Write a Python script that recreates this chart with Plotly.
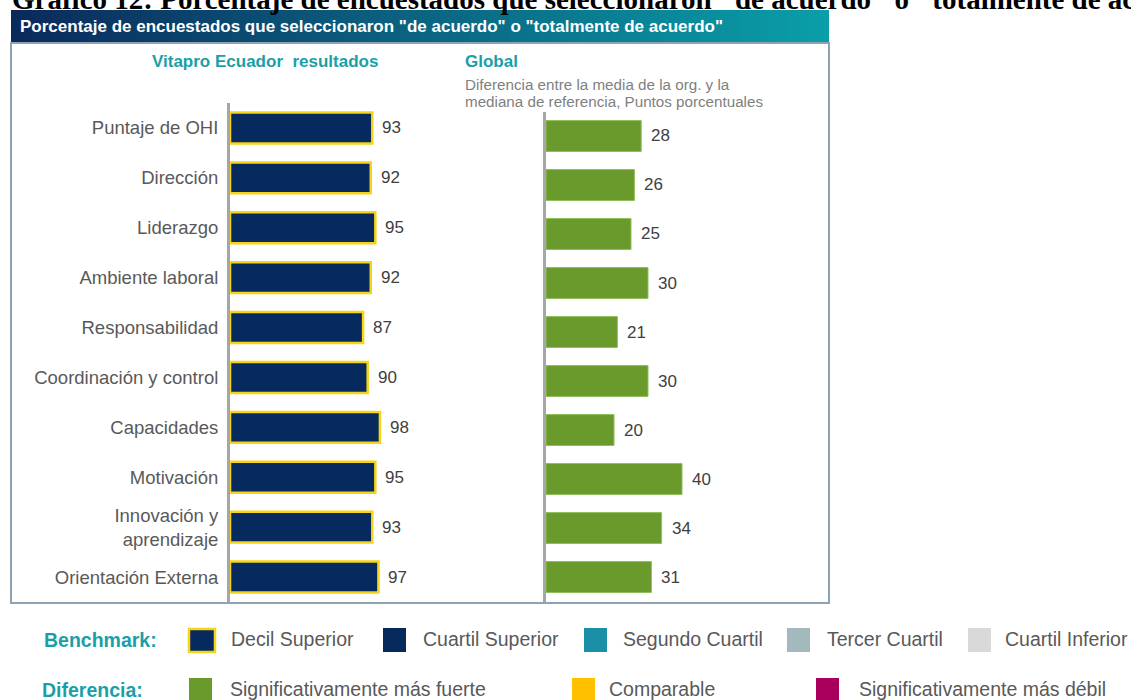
import plotly.graph_objects as go

W, H = 1131, 700

categories = ["Puntaje de OHI", "Dirección", "Liderazgo", "Ambiente laboral",
              "Responsabilidad", "Coordinación y control", "Capacidades",
              "Motivación", "Innovación y<br>aprendizaje", "Orientación Externa"]
results = [93, 92, 95, 92, 87, 90, 98, 95, 93, 97]
global_diff = [28, 26, 25, 30, 21, 30, 20, 40, 34, 31]

bench_labels = ["Decil Superior", "Cuartil Superior", "Segundo Cuartil", "Tercer Cuartil", "Cuartil Inferior"]
bench_colors = ["#062a5e", "#062a5e", "#1a8fa6", "#a3b9bd", "#d9d9d9"]
diff_labels = ["Significativamente más fuerte", "Comparable", "Significativamente más débil"]
diff_colors = ["#6a9a2c", "#ffc000", "#a8005a"]

NAVY = "#062a5e"
YELLOW = "#f7d417"
GREEN = "#6a9a2c"
TEAL = "#1a9fa8"
GRAY = "#595959"
SANS = "Arial, Liberation Sans, sans-serif"


def px(x):
    return x / W


def py(y):
    return 1 - y / H


fig = go.Figure()

fig.add_trace(go.Bar(
    y=categories, x=results, orientation="h", xaxis="x", yaxis="y",
    marker=dict(color=NAVY, line=dict(color=YELLOW, width=2.5)),
    width=0.62, showlegend=False, hoverinfo="x+y"))

fig.add_trace(go.Bar(
    y=categories, x=global_diff, orientation="h", xaxis="x2", yaxis="y2",
    marker=dict(color=GREEN, line=dict(color="#8fbf5a", width=1)),
    width=0.63, showlegend=False, hoverinfo="x+y"))

annotations = []
for c, v in zip(categories, results):
    annotations.append(dict(x=v, y=c, xref="x", yref="y", text=str(v), showarrow=False,
                            xanchor="left", xshift=8, font=dict(family=SANS, size=17, color="#404040")))
for c, v in zip(categories, global_diff):
    annotations.append(dict(x=v, y=c, xref="x2", yref="y2", text=str(v), showarrow=False,
                            xanchor="left", xshift=8, font=dict(family=SANS, size=17, color="#404040")))

shapes = []
# header gradient bar
c0 = (11, 42, 92)
c1 = (10, 158, 168)
N = 82
x0, x1 = 11, 829
for i in range(N):
    t = i / (N - 1)
    col = "rgb(%d,%d,%d)" % tuple(round(a + (b - a) * t) for a, b in zip(c0, c1))
    xa = x0 + (x1 - x0) * i / N
    xb = x0 + (x1 - x0) * (i + 1) / N + 0.8
    shapes.append(dict(type="rect", xref="paper", yref="paper", x0=px(xa), x1=px(min(xb, x1)),
                       y0=py(43), y1=py(10), fillcolor=col, line=dict(width=0), layer="below"))
# panel border
shapes.append(dict(type="rect", xref="paper", yref="paper", x0=px(11), x1=px(829), y0=py(603), y1=py(43),
                   line=dict(color="#8ea4b4", width=2), fillcolor="rgba(0,0,0,0)", layer="below"))

# top (cropped) title, as in the reference
annotations.append(dict(x=px(10), y=py(-1), xref="paper", yref="paper", xanchor="left", yanchor="middle",
                        text="<b>Gráfico 12: Porcentaje de encuestados que seleccionaron \"de acuerdo\" o \"totalmente de acuerdo\"</b>",
                        showarrow=False, font=dict(family="Liberation Serif, Times New Roman, serif", size=29, color="#000000")))
# header text
annotations.append(dict(x=px(18), y=py(26.5), xref="paper", yref="paper", xanchor="left", yanchor="middle",
                        text="<b>Porcentaje de encuestados que seleccionaron \"de acuerdo\" o \"totalmente de acuerdo\"</b>",
                        showarrow=False, font=dict(family=SANS, size=17, color="#ffffff")))
# subtitles
annotations.append(dict(x=px(265), y=py(62), xref="paper", yref="paper", xanchor="center", yanchor="middle",
                        text="<b>Vitapro Ecuador  resultados</b>", showarrow=False,
                        font=dict(family=SANS, size=17, color=TEAL)))
annotations.append(dict(x=px(463), y=py(62), xref="paper", yref="paper", xanchor="left", yanchor="middle",
                        text="<b>Global</b>", showarrow=False, font=dict(family=SANS, size=17, color=TEAL)))
annotations.append(dict(x=px(463), y=py(84), xref="paper", yref="paper", xanchor="left", yanchor="middle",
                        text="Diferencia entre la media de la org. y la", showarrow=False,
                        font=dict(family=SANS, size=15.2, color="#7f7f7f")))
annotations.append(dict(x=px(463), y=py(101), xref="paper", yref="paper", xanchor="left", yanchor="middle",
                        text="mediana de referencia, Puntos porcentuales", showarrow=False,
                        font=dict(family=SANS, size=15.2, color="#7f7f7f")))

# legend rows
annotations.append(dict(x=px(42), y=py(640), xref="paper", yref="paper", xanchor="left", yanchor="middle",
                        text="<b>Benchmark:</b>", showarrow=False, font=dict(family=SANS, size=19.5, color=TEAL)))
annotations.append(dict(x=px(40), y=py(690), xref="paper", yref="paper", xanchor="left", yanchor="middle",
                        text="<b>Diferencia:</b>", showarrow=False, font=dict(family=SANS, size=19.5, color=TEAL)))

bench_sq_x = [188, 383, 584, 787, 968]
bench_txt_x = [229, 421, 621, 825, 1003]
for i, (lab, col) in enumerate(zip(bench_labels, bench_colors)):
    sx = bench_sq_x[i]
    if i == 0:
        shapes.append(dict(type="rect", xref="paper", yref="paper", x0=px(sx + 1), x1=px(sx + 27),
                           y0=py(652), y1=py(629), fillcolor=col, line=dict(color=YELLOW, width=2.5)))
    else:
        shapes.append(dict(type="rect", xref="paper", yref="paper", x0=px(sx), x1=px(sx + 23),
                           y0=py(652), y1=py(628), fillcolor=col, line=dict(width=0)))
    annotations.append(dict(x=px(bench_txt_x[i]), y=py(639), xref="paper", yref="paper", xanchor="left",
                            yanchor="middle", text=lab, showarrow=False,
                            font=dict(family=SANS, size=19.5, color=GRAY)))

diff_sq_x = [189, 572, 816]
diff_txt_x = [228, 607, 857]
for i, (lab, col) in enumerate(zip(diff_labels, diff_colors)):
    sx = diff_sq_x[i]
    shapes.append(dict(type="rect", xref="paper", yref="paper", x0=px(sx), x1=px(sx + 23),
                       y0=py(701), y1=py(678), fillcolor=col, line=dict(width=0)))
    annotations.append(dict(x=px(diff_txt_x[i]), y=py(689), xref="paper", yref="paper", xanchor="left",
                            yanchor="middle", text=lab, showarrow=False,
                            font=dict(family=SANS, size=19.5, color=GRAY)))

fig.update_layout(
    width=W, height=H,
    margin=dict(l=0, r=0, t=0, b=0),
    paper_bgcolor="white", plot_bgcolor="rgba(0,0,0,0)",
    bargap=0.38,
    xaxis=dict(domain=[px(230), px(383)], range=[0, 100], visible=False, fixedrange=True),
    xaxis2=dict(domain=[px(546), px(716)], range=[0, 50], visible=False, fixedrange=True),
    yaxis=dict(domain=[py(602), py(103)], anchor="x", autorange="reversed", categoryorder="array",
               categoryarray=categories, showgrid=False, zeroline=False, showline=True,
               linecolor="#a6a6a6", linewidth=3, ticks="", ticklabelstandoff=5,
               tickfont=dict(family=SANS, size=18.5, color=GRAY)),
    yaxis2=dict(domain=[py(601.5), py(111.5)], anchor="x2", autorange="reversed", categoryorder="array",
                categoryarray=categories, showgrid=False, zeroline=False, showline=True,
                linecolor="#a6a6a6", linewidth=3, ticks="", showticklabels=False),
    shapes=shapes,
    annotations=annotations,
)

fig.write_html("out.html")
